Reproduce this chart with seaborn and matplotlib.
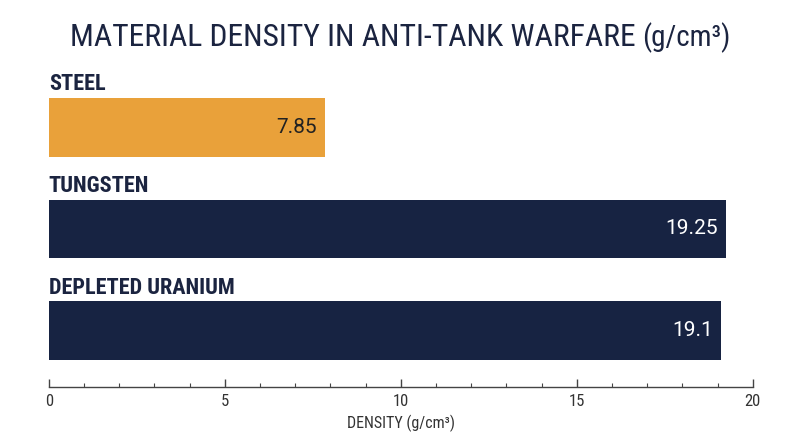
import matplotlib
matplotlib.use("Agg")
import matplotlib.pyplot as plt
import seaborn as sns
import pandas as pd
from matplotlib.ticker import MultipleLocator

materials = ["STEEL", "TUNGSTEN", "DEPLETED URANIUM"]
densities = [7.85, 19.25, 19.1]
value_labels = ["7.85", "19.25", "19.1"]
bar_colors = ["#E9A13A", "#172342", "#172342"]
value_colors = ["#222222", "#FFFFFF", "#FFFFFF"]
title = "MATERIAL DENSITY IN ANTI-TANK WARFARE"
title_unit = "(g/cm³)"
xlabel = "DENSITY (g/cm³)"

sns.set_theme(style="white")
FAM = ["Roboto Condensed", "Liberation Sans Narrow", "Roboto", "DejaVu Sans"]
REG = ["Roboto", "DejaVu Sans"]
plt.rcParams["font.family"] = FAM

df = pd.DataFrame({"material": materials, "density": densities})

fig = plt.figure(figsize=(8, 4.47), dpi=100)
ax = fig.add_axes([0.061, 0.134, 0.88, 0.732])

sns.barplot(data=df, x="density", y="material", hue="material",
            palette=bar_colors, width=0.58, legend=False, ax=ax,
            saturation=1, linewidth=0)

ax.set_xlim(0, 20)
ax.set_ylim(2.557, -0.665)
ax.xaxis.set_major_locator(MultipleLocator(5))
ax.xaxis.set_minor_locator(MultipleLocator(1))
ax.tick_params(axis="x", which="major", direction="in", length=6, width=1,
               color="#444444", labelsize=12, labelcolor="#333333", pad=5, bottom=True)
ax.tick_params(axis="x", which="minor", direction="in", length=3, width=0.8,
               color="#444444", bottom=True)
ax.set_yticks([])
ax.set_ylabel("")
ax.set_xlabel(xlabel, fontsize=11.5, color="#333333", labelpad=4)
for s in ["top", "right", "left"]:
    ax.spines[s].set_visible(False)
ax.spines["bottom"].set_color("#444444")
ax.spines["bottom"].set_linewidth(1)

for i, (m, v, lab, vc) in enumerate(zip(materials, densities, value_labels, value_colors)):
    ax.text(0, i - 0.29 - 0.025, m, ha="left", va="bottom", fontsize=16,
            fontweight="bold", color="#1B2440")
    ax.annotate(lab, xy=(v, i), xytext=(-6, 0), textcoords="offset points",
                ha="right", va="center", fontsize=15, color=vc, family=REG)

t1 = fig.text(70 / 800, 0.915, title, ha="left", va="center", fontsize=22.8,
              color="#1B2440")
fig.canvas.draw()
bb = t1.get_window_extent()
x_end = bb.x1 / fig.bbox.width
fig.text(x_end + 6 / 800, 0.915, title_unit, ha="left", va="center", fontsize=21,
         color="#1B2440")

fig.savefig("out.png", dpi=100)
